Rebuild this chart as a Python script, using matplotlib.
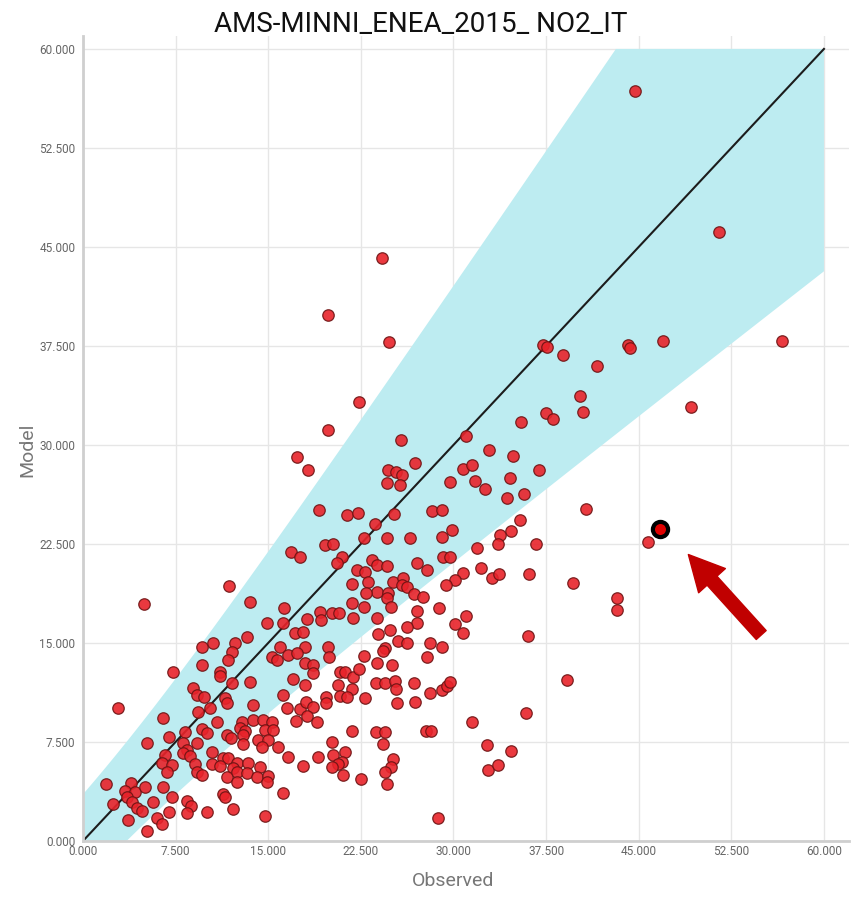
import numpy as np
import matplotlib
matplotlib.use("Agg")
import matplotlib.pyplot as plt
from matplotlib.ticker import FuncFormatter

plt.rcParams["font.family"] = ["Roboto", "DejaVu Sans"]

title = "AMS-MINNI_ENEA_2015_ NO2_IT"

# station values (observed, model)
observed = [
    9.61, 10.55, 12.31, 12.04, 11.77, 15.28, 15.68, 7.26, 9.61, 11.09,
    11.09, 12.04, 13.52, 8.93, 9.20, 9.80, 11.50, 11.63, 13.79, 2.86,
    6.50, 9.34, 10.28, 10.82, 12.85, 13.79, 14.60, 15.28, 12.71, 13.12,
    14.74, 15.41, 8.26, 9.61, 10.07, 6.99, 11.63, 11.96, 5.16, 8.12,
    9.20, 12.98, 12.93, 14.20, 15.00, 8.39, 10.42, 11.36, 11.77, 12.44,
    14.47, 15.82, 6.64, 8.12, 8.66, 9.07, 6.37, 7.18, 6.77, 9.20,
    9.61, 10.42, 11.09, 12.17, 13.39, 14.33, 11.63, 12.44, 12.44, 13.25,
    14.06, 15.00, 14.87, 1.84, 3.86, 3.40, 4.21, 3.54, 3.94, 5.02,
    6.50, 2.46, 5.64, 4.35, 4.75, 7.18, 8.39, 8.72, 11.36, 11.50,
    3.67, 6.99, 8.39, 10.01, 12.17, 14.74, 5.96, 6.37, 5.16,
    # mid range
    19.87, 25.75, 17.30, 18.19, 26.90, 24.72, 25.34, 25.80, 24.59, 25.66,
    30.80, 29.72, 19.11, 21.40, 22.24, 23.64, 25.21, 28.23, 29.10, 29.90,
    29.04, 22.78, 24.64, 26.48, 19.60, 20.27, 16.82, 17.57, 20.94, 20.54,
    23.37, 23.78, 24.59, 27.02, 27.83, 29.18, 29.72, 30.74, 30.12, 29.39,
    22.16, 22.83, 23.10, 21.75, 25.13, 25.94, 25.80, 26.21, 23.83, 22.91,
    24.72, 24.59, 24.91, 26.80, 27.56, 21.75, 22.78, 16.28, 28.85, 27.02,
    19.19, 20.13, 20.76, 19.24, 18.16, 21.83, 23.78, 16.22, 27.02, 26.21,
    30.12, 30.74, 17.17, 17.84, 23.91, 24.86, 25.53, 26.21, 28.10, 29.04,
    15.95, 17.98, 19.87, 24.45,
    4.94, 11.82, 13.52, 14.87, 13.25,
    # low model, mid observed
    16.63, 17.30, 19.94, 17.98, 18.66, 18.66, 22.78, 24.26, 27.83, 23.78,
    24.99, 20.81, 21.21, 21.88, 22.37, 16.98, 17.98, 20.67, 21.75, 20.81,
    21.35, 19.68, 22.83, 23.72, 24.45, 25.26, 25.34, 26.80, 28.10, 29.04,
    29.45, 29.72, 25.40, 26.89, 16.17, 16.55, 17.57, 18.06, 18.66, 18.11,
    19.68, 18.92, 17.25, 21.75, 23.72, 24.45, 24.32, 27.75, 28.15, 20.14,
    16.63, 19.06, 20.27, 21.21, 20.94, 20.67, 20.13, 21.02, 17.84, 25.10,
    24.91, 24.45, 22.48, 24.64, 16.17, 28.77,
    # high observed
    37.27, 37.54, 38.89, 41.59, 44.16, 44.30, 40.24, 40.51, 35.47, 37.49,
    38.08, 31.01, 32.90, 34.79, 31.48, 36.95, 34.58, 31.74, 32.55, 34.36,
    35.74, 35.39, 34.63, 33.76, 33.63, 31.93, 36.68, 40.73, 45.78, 32.20,
    33.09, 33.71, 36.14, 39.71, 43.27, 43.27, 31.01, 36.07, 39.22, 35.88,
    31.47, 32.69, 34.66, 32.83, 33.63,
    44.70, 24.18, 19.87, 24.80, 22.35, 51.53, 47.00, 56.57, 49.20,
]
model = [
    14.72, 15.03, 14.97, 14.34, 13.71, 13.96, 13.71, 12.78, 13.33, 12.83,
    12.50, 11.94, 12.07, 11.57, 11.06, 10.93, 10.80, 10.48, 10.30, 10.10,
    9.34, 9.80, 10.05, 9.04, 9.04, 9.17, 9.17, 9.04, 8.54, 8.36,
    8.41, 8.41, 8.28, 8.46, 8.21, 7.90, 8.03, 7.78, 7.40, 7.40,
    7.40, 8.03, 7.35, 7.65, 7.65, 6.89, 6.77, 6.26, 6.26, 5.93,
    7.15, 7.15, 6.52, 6.64, 6.44, 5.83, 5.88, 5.76, 5.25, 5.25,
    5.00, 5.83, 5.68, 5.50, 5.88, 5.63, 4.82, 5.25, 4.49, 5.13,
    4.82, 4.92, 4.49, 4.32, 4.37, 3.81, 3.74, 3.36, 2.98, 4.07,
    4.12, 2.78, 2.98, 2.47, 2.30, 3.36, 3.06, 2.68, 3.56, 3.31,
    1.59, 2.22, 2.10, 2.22, 2.40, 1.92, 1.72, 1.29, 0.78,
    # mid range
    31.14, 30.38, 29.06, 28.10, 28.66, 28.10, 27.98, 27.73, 27.10, 26.97,
    28.16, 27.22, 25.08, 24.70, 24.87, 23.99, 24.77, 25.03, 25.08, 23.56,
    23.06, 22.93, 22.93, 22.93, 22.42, 22.50, 21.92, 21.54, 21.49, 21.04,
    21.29, 20.91, 20.83, 21.04, 20.53, 21.54, 21.54, 20.33, 19.77, 19.39,
    20.53, 20.40, 19.65, 19.44, 19.65, 19.90, 19.39, 19.27, 18.89, 18.76,
    18.76, 18.38, 17.75, 18.71, 18.51, 18.00, 17.75, 17.68, 17.63, 17.45,
    17.37, 17.25, 17.30, 16.74, 16.79, 16.87, 16.87, 16.54, 16.54, 16.24,
    16.44, 15.73, 15.73, 15.86, 15.68, 15.99, 15.18, 14.97, 14.97, 14.72,
    14.72, 14.72, 14.72, 14.60,
    17.95, 19.34, 18.10, 16.54, 15.48,
    # low model, mid observed
    14.09, 14.27, 13.96, 13.51, 13.33, 12.70, 14.04, 14.42, 13.96, 13.46,
    13.33, 12.83, 12.83, 12.45, 13.00, 12.25, 11.82, 11.82, 11.49, 10.98,
    10.93, 10.93, 10.81, 11.94, 12.00, 12.15, 11.49, 11.94, 11.19, 11.44,
    11.74, 12.07, 10.48, 10.56, 11.06, 10.05, 10.00, 10.56, 10.18, 9.47,
    10.43, 9.04, 9.09, 8.36, 8.28, 8.28, 7.35, 8.30, 8.30, 7.53,
    6.34, 6.39, 6.52, 6.77, 6.01, 5.83, 5.58, 5.00, 5.68, 6.19,
    5.58, 5.25, 4.67, 4.29, 3.61, 1.72,
    # high observed
    37.59, 37.40, 36.82, 35.95, 37.59, 37.32, 33.70, 32.50, 31.76, 32.45,
    31.97, 30.65, 29.64, 29.19, 28.45, 28.13, 27.47, 27.26, 26.68, 25.96,
    26.28, 24.34, 23.50, 23.18, 22.52, 22.23, 22.52, 25.14, 22.65, 20.71,
    19.92, 20.24, 20.24, 19.52, 18.41, 17.48, 17.06, 15.50, 12.19, 9.72,
    8.98, 7.26, 6.81, 5.40, 5.75,
    56.80, 44.14, 39.85, 37.83, 33.28, 46.12, 37.87, 37.90, 32.90,
]

# selected station
sel_obs = 46.72
sel_mod = 23.60

# acceptance band parameters
band_slope = 0.275
band_offset = 3.4
axis_max = 60.0
ticks = np.arange(0, 60.1, 7.5)

fig = plt.figure(figsize=(8.58, 9.0), dpi=100)
ax = fig.add_axes([0.0967, 0.0656, 0.8924, 0.8947])

# band: lower edge and its mirror about the 1:1 line
o = np.linspace(0, axis_max, 300)
low = np.clip(o - np.sqrt((band_slope * o) ** 2 + band_offset ** 2), 0, None)
poly_x = np.concatenate([o, [axis_max], low[::-1]])
poly_y = np.concatenate([low, [axis_max], o[::-1]])
ax.fill(poly_x, poly_y, color="#bdecf1", lw=0, zorder=1)

ax.plot([0, axis_max], [0, axis_max], color="#1c1c1c", lw=1.5, zorder=2)

ax.scatter(observed, model, s=68, facecolor="#e8232a", edgecolor="#6e1414",
           linewidth=0.9, alpha=0.9, zorder=3)
ax.scatter([sel_obs], [sel_mod], s=120, facecolor="#e00000", edgecolor="black",
           linewidth=3, zorder=4)

ax.annotate("", xy=(sel_obs + 2.3, sel_mod - 1.9), xytext=(sel_obs + 8.2, sel_mod - 8.0),
            arrowprops=dict(arrowstyle="simple,head_length=1.27,head_width=1.3,tail_width=0.48",
                            color="#c00000", mutation_scale=20, shrinkA=0, shrinkB=0),
            zorder=5)

ax.set_xlim(0, 62)
ax.set_ylim(0, 61)
ax.set_xticks(ticks)
ax.set_yticks(ticks)
fmt = FuncFormatter(lambda v, p: f"{v:.3f}")
ax.xaxis.set_major_formatter(fmt)
ax.yaxis.set_major_formatter(fmt)
ax.tick_params(axis="both", length=0, labelsize=8.5, labelcolor="#666666")
ax.tick_params(axis="x", pad=3)
ax.tick_params(axis="y", pad=5.5)
ax.grid(True, color="#e6e6e6", lw=1)
ax.set_axisbelow(True)
for side in ["top", "right"]:
    ax.spines[side].set_visible(False)
for side in ["left", "bottom"]:
    ax.spines[side].set_color("#cfcfcf")
    ax.spines[side].set_linewidth(2)

fig.text(453 / 858, 1 - 881 / 900, "Observed", ha="center", va="center",
         fontsize=14, color="#777777")
fig.text(27 / 858, 1 - 450 / 900, "Model", ha="center", va="center",
         rotation=90, fontsize=14, color="#777777")
fig.text(421 / 858, 1 - 25 / 900, title, ha="center", va="center",
         fontsize=20, color="#111111")

fig.savefig("out.png", dpi=100)
